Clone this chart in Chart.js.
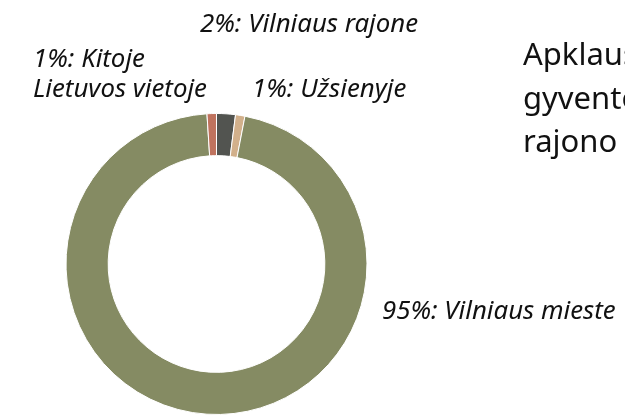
<!DOCTYPE html>
<html lang="lt">
<head>
  <meta charset="UTF-8">
  <title>Apklausos dalyvių gyvenamoji vieta</title>
  <script src="https://cdn.jsdelivr.net/npm/chart.js"></script>
  <style>
    body {
      margin: 0;
      background: #fff;
      overflow: hidden;
    }
    canvas {
      display: block;
    }
  </style>
</head>
<body>
<canvas id="grafikas" width="625" height="419"></canvas>

<script>
  // duomenys (pagal laikrodžio rodyklę nuo viršaus)
  const categories = ['Vilniaus rajone', 'Užsienyje', 'Vilniaus mieste', 'Kitoje Lietuvos vietoje'];
  const values = [2, 1, 95, 1];
  const colors = ['#525450', '#d2b08b', '#858b63', '#c0735e'];

  const titleLines = ['Apklausoje dalyvavę', 'gyventojai iš Vilniaus', 'rajono ir miesto'];

  // etikečių vieta (tekstas, x, pirmosios eilutės bazinė linija)
  const labelPlaces = [
    { lines: ['2%: Vilniaus rajone'], x: 200, y: 32 },
    { lines: ['1%: Užsienyje'], x: 252, y: 97 },
    { lines: ['95%: Vilniaus mieste'], x: 382, y: 319 },
    { lines: ['1%: Kitoje', 'Lietuvos vietoje'], x: 33, y: 67 }
  ];

  const labelsPlugin = {
    id: 'labelsPlugin',
    afterDraw(chart) {
      const c = chart.ctx;
      c.save();
      c.fillStyle = '#111';
      c.textAlign = 'left';
      c.textBaseline = 'alphabetic';
      c.font = 'italic 25.8px "Noto Sans"';
      labelPlaces.forEach(p => {
        p.lines.forEach((line, i) => c.fillText(line, p.x, p.y + i * 30));
      });
      c.font = '31px "Noto Sans"';
      titleLines.forEach((line, i) => c.fillText(line, 523, 65 + i * 43.5));
      c.restore();
    }
  };

  const ctx = document.getElementById('grafikas').getContext('2d');

  new Chart(ctx, {
    type: 'doughnut',
    data: {
      labels: categories,
      datasets: [{
        data: values,
        backgroundColor: colors,
        borderColor: '#fff',
        borderWidth: 1
      }]
    },
    options: {
      responsive: false,
      animation: false,
      cutout: '72%',
      layout: {
        padding: { top: 113, bottom: 4, left: 65, right: 257 }
      },
      plugins: {
        legend: { display: false },
        tooltip: { enabled: false }
      }
    },
    plugins: [labelsPlugin]
  });
</script>

</body>
</html>
